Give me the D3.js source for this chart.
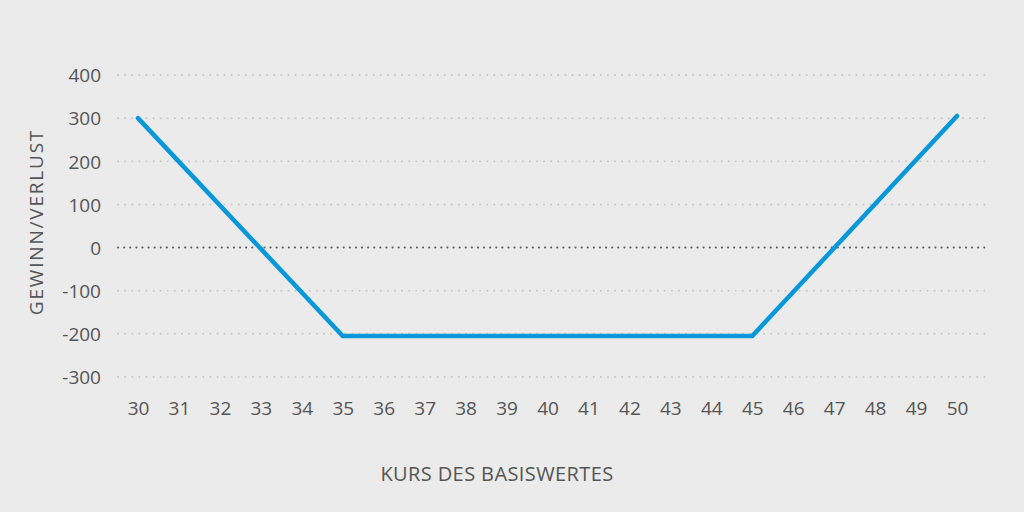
<!DOCTYPE html>
<html><head><meta charset="utf-8">
<script src="https://cdn.jsdelivr.net/npm/d3@7"></script>
<style>
html,body{margin:0;padding:0;background:#ebebeb;}
svg text{font-family:"Open Sans","Noto Sans",sans-serif !important;}
</style></head>
<body>
<svg id="c" width="1024" height="512"></svg>
<script>
const xTicks = d3.range(30, 51);
const yTicks = [-300, -200, -100, 0, 100, 200, 300, 400];
const priceX = [30, 35, 45, 50];
const profitY = [300, -205, -205, 305];
const xTitle = "KURS DES BASISWERTES";
const yTitle = "GEWINN/VERLUST";

const FONT = '"Open Sans","Noto Sans",sans-serif';
const svg = d3.select("#c");
svg.append("rect").attr("width",1024).attr("height",512).attr("fill","#ebebeb");

const x = d3.scaleLinear().domain([30,50]).range([138,957]);
const y = d3.scaleLinear().domain([-300,400]).range([377,75]);

// grid
svg.append("g").selectAll("line").data(yTicks).join("line")
  .attr("x1",118).attr("x2",990)
  .attr("y1",d=>y(d)).attr("y2",d=>y(d))
  .attr("stroke",d=>d===0?"#555":"#c8c8c8")
  .attr("stroke-width",2)
  .attr("stroke-linecap","round")
  .attr("stroke-dasharray",d=>d===0?"0.1 6":"0.1 7");

// y labels
const yAxis = d3.axisLeft(y).tickValues(yTicks).tickSize(0).tickPadding(0).tickFormat(d=>String(d));
const gy = svg.append("g").attr("transform","translate(101,0)").call(yAxis).attr("font-family",FONT);
gy.select(".domain").remove();
gy.selectAll("text").attr("fill","#555").style("font-size","19px").attr("dy","0.36em");

// x labels
const xAxis = d3.axisBottom(x).tickValues(xTicks).tickSize(0).tickPadding(0).tickFormat(d=>String(d));
const gx = svg.append("g").attr("transform","translate(0,401)").call(xAxis).attr("font-family",FONT);
gx.select(".domain").remove();
gx.selectAll("text").attr("fill","#555").style("font-size","19px").attr("dy","0.71em");

// line
const pts = priceX.map((p,i)=>[p,profitY[i]]);
svg.append("path").datum(pts)
  .attr("fill","none").attr("stroke","#0797da").attr("stroke-width",4.5)
  .attr("stroke-linecap","round").attr("stroke-linejoin","miter")
  .attr("d", d3.line().x(d=>x(d[0])).y(d=>y(d[1])));

// titles
svg.append("text").attr("x",497).attr("y",481).attr("text-anchor","middle")
  .attr("fill","#555").style("font-size","20px").style("letter-spacing","0.4px").style("font-family",FONT).text(xTitle);
svg.append("text").attr("transform","translate(43,222) rotate(-90)").attr("text-anchor","middle")
  .attr("fill","#555").style("font-size","19px").style("font-family",FONT).style("letter-spacing","1.8px").text(yTitle);
</script>
</body></html>
